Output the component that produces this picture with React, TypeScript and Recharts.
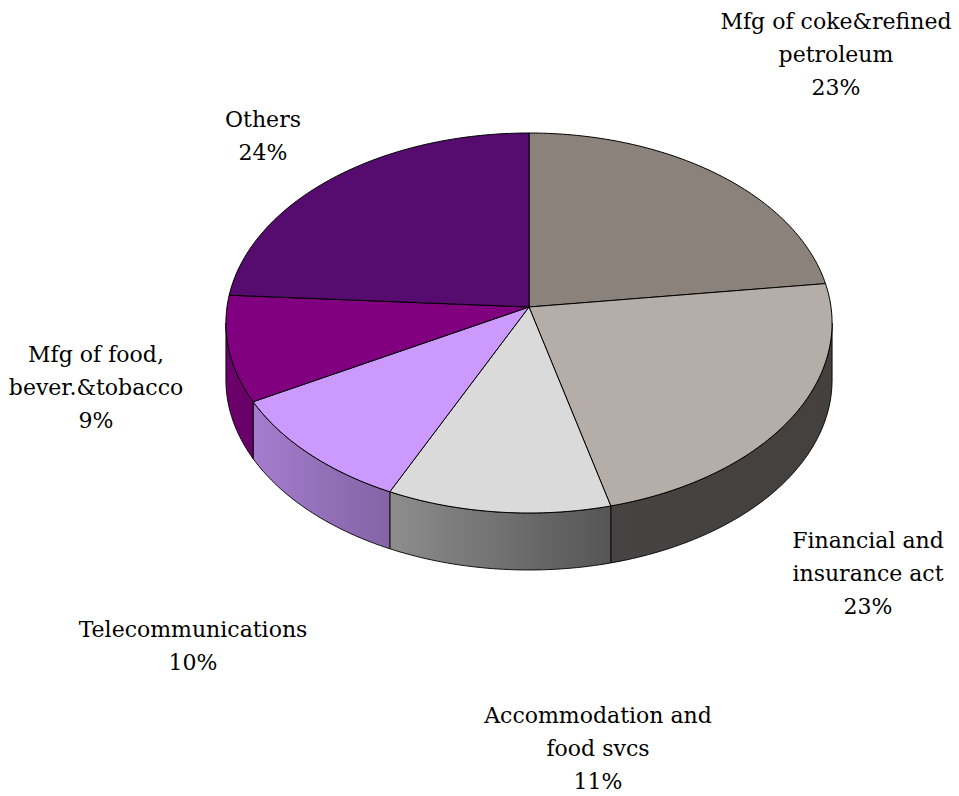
import { PieChart, Pie, Cell } from "recharts";

// slices clockwise from 12 o'clock
const CATEGORIES = [
  "Mfg of coke&refined\npetroleum",
  "Financial and\ninsurance act",
  "Accommodation and\nfood svcs",
  "Telecommunications",
  "Mfg of food,\nbever.&tobacco",
  "Others",
];
const SHARES = [23, 23, 11, 10, 9, 24];
const COLORS = ["#8B827C", "#B5ADA8", "#DADADA", "#CC99FF", "#800080", "#560B6E"];

// where each label block sits (center x, first baseline)
const LABEL_POS = [
  [836, 29],
  [868, 548],
  [598, 723],
  [193, 637],
  [96, 362],
  [263, 127],
];

const data = CATEGORIES.map((name, i) => ({ name, value: SHARES[i] }));

// 3D look: perspective-projected disc
const CX = 529;
const CY = 307;
const RX = 302;
const RY_RATIO = 188.65 / 302;
const PERSP = 0.0842;
const DEPTH = 57;
const RAD = Math.PI / 180;

function project(cx: number, cy: number, r: number, deg: number, dy = 0) {
  const u = Math.cos(deg * RAD);
  const v = -Math.sin(deg * RAD);
  const k = 1 - PERSP * v;
  return [cx + (r * u) / k, cy + (r * RY_RATIO * v) / k + dy];
}

function arcPoints(cx: number, cy: number, r: number, from: number, to: number, dy = 0) {
  const pts: number[][] = [];
  const n = Math.max(2, Math.ceil(Math.abs(to - from)));
  for (let i = 0; i <= n; i++) {
    pts.push(project(cx, cy, r, from + ((to - from) * i) / n, dy));
  }
  return pts;
}

function shade(hex: string, f: number) {
  const n = parseInt(hex.slice(1), 16);
  const c = [(n >> 16) & 255, (n >> 8) & 255, n & 255].map((x) => Math.round(x * f));
  return `rgb(${c[0]},${c[1]},${c[2]})`;
}

const TopShape = (props: any) => {
  const { cx, cy, outerRadius, startAngle, endAngle, fill } = props;
  const pts = arcPoints(cx, cy, outerRadius, startAngle, endAngle);
  const d =
    `M${cx},${cy} ` + pts.map((p) => `L${p[0].toFixed(2)},${p[1].toFixed(2)}`).join(" ") + " Z";
  return <path d={d} fill={fill} stroke="#000" strokeWidth={1} strokeLinejoin="round" />;
};

const WALL_FROM = -180 + Math.asin(PERSP) / RAD;
const WALL_TO = -Math.asin(PERSP) / RAD;

const WallShape = (props: any) => {
  const { cx, cy, outerRadius, startAngle, endAngle, fill } = props;
  const hi = Math.min(Math.max(startAngle, endAngle), WALL_TO);
  const lo = Math.max(Math.min(startAngle, endAngle), WALL_FROM);
  if (lo >= hi) return <g />;
  const top = arcPoints(cx, cy, outerRadius, hi, lo);
  const bottom = arcPoints(cx, cy, outerRadius, lo, hi, DEPTH);
  const d =
    "M" + [...top, ...bottom].map((p) => `${p[0].toFixed(2)},${p[1].toFixed(2)}`).join(" L") + " Z";
  const id = `wall-${String(fill).replace("#", "")}`;
  return (
    <g>
      <defs>
        <linearGradient id={id} gradientUnits="userSpaceOnUse" x1={cx - outerRadius} y1={0} x2={cx + outerRadius} y2={0}>
          <stop offset="0" stopColor={shade(fill, 0.84)} />
          <stop offset="0.634" stopColor={shade(fill, 0.39)} />
          <stop offset="1" stopColor={shade(fill, 0.37)} />
        </linearGradient>
      </defs>
      <path d={d} fill={`url(#${id})`} stroke="#000" strokeWidth={0.9} strokeLinejoin="round" />
    </g>
  );
};

const renderLabel = (props: any) => {
  const i = props.index;
  const [x, y] = LABEL_POS[i];
  const lines = [...CATEGORIES[i].split("\n"), `${Math.round(props.percent * 100)}%`];
  return (
    <text x={x} y={y} textAnchor="middle" fill="#000" fontSize={22} fontFamily="'DejaVu Serif', serif">
      {lines.map((ln, k) => (
        <tspan key={k} x={x} dy={k === 0 ? 0 : 33}>
          {ln}
        </tspan>
      ))}
    </text>
  );
};

export default function App() {
  return (
    <div style={{ position: "absolute", left: 0, top: 0, width: 959, height: 796, background: "#fff" }}>
      <PieChart width={959} height={796} margin={{ top: 0, right: 0, bottom: 0, left: 0 }}>
        <Pie
          data={data}
          dataKey="value"
          nameKey="name"
          cx={CX}
          cy={CY}
          outerRadius={RX}
          startAngle={90}
          endAngle={-270}
          stroke="none"
          shape={WallShape}
          activeShape={WallShape}
          inactiveShape={WallShape}
          isAnimationActive={false}
        >
          {data.map((_, i) => (
            <Cell key={i} fill={COLORS[i]} />
          ))}
        </Pie>
        <Pie
          data={data}
          dataKey="value"
          nameKey="name"
          cx={CX}
          cy={CY}
          outerRadius={RX}
          startAngle={90}
          endAngle={-270}
          shape={TopShape}
          activeShape={TopShape}
          inactiveShape={TopShape}
          label={renderLabel}
          labelLine={false}
          isAnimationActive={false}
        >
          {data.map((_, i) => (
            <Cell key={i} fill={COLORS[i]} />
          ))}
        </Pie>
      </PieChart>
    </div>
  );
}
